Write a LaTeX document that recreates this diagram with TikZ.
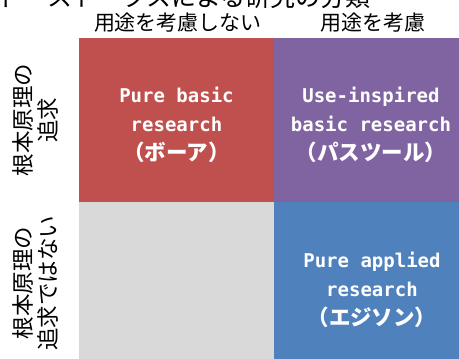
\documentclass[tikz,border=0pt]{standalone}
\usepackage{fontspec}
\newfontfamily\jp{Noto Sans CJK JP}
\newfontfamily\mono{DejaVu Sans Mono}
\definecolor{cred}{HTML}{C0504D}
\definecolor{cpurple}{HTML}{8064A2}
\definecolor{cblue}{HTML}{4F81BD}
\definecolor{cgray}{HTML}{D9D9D9}
\newcommand{\kanaline}[1]{{\jp\bfseries\fontsize{21.5}{29}\selectfont #1}}
\tikzset{
  cell/.style={draw=none, inner sep=0pt, outer sep=0pt, anchor=north west},
  celltext/.style={text=white, align=center, inner sep=0pt, font=\fontsize{19}{29}\selectfont},
  header/.style={inner sep=0pt, font=\jp\fontsize{21}{21}\selectfont},
  rowlabel/.style={inner sep=0pt, rotate=90, align=center, font=\jp\fontsize{22.5}{25}\selectfont}
}
\begin{document}
\begin{tikzpicture}[x=1pt,y=-1pt]
\useasboundingbox (0,0) rectangle (459,359);
\clip (0,0) rectangle (459,359);
% cells
\node[cell, fill=cred, minimum width=195pt, minimum height=164pt] (bohr) at (79,38) {};
\node[cell, fill=cpurple, minimum width=195pt, minimum height=164pt] (pasteur) at (274,38) {};
\node[cell, fill=cgray, minimum width=195pt, minimum height=170pt] (empty) at (79,202) {};
\node[cell, fill=cblue, minimum width=195pt, minimum height=170pt] (edison) at (274,202) {};
% cell texts
\node[celltext] (t1) at (176.5,125) {{\mono\bfseries Pure basic}\\{\mono\bfseries research}\\\kanaline{（ボーア）}};
\node[celltext] (t2) at (371,125) {{\mono\bfseries Use-inspired}\\{\mono\bfseries basic research}\\\kanaline{（パスツール）}};
\node[celltext] (t3) at (372,290) {{\mono\bfseries Pure applied}\\{\mono\bfseries research}\\\kanaline{（エジソン）}};
% headers
\node[header] (h1) at (178,23) {用途を考慮しない};
\node[header] (h2) at (373,23) {用途を考慮};
% row labels
\node[rowlabel] (r1) at (35.5,120) {根本原理の\\追求};
\node[rowlabel] (r2) at (35.5,283) {根本原理の\\追求ではない};
% title (clipped at top, as in the reference)
\node[anchor=base east, inner sep=0pt, font=\jp\fontsize{25}{25}\selectfont] (title) at (371,6.5) {ドナルド・ストークスによる研究の分類};
\end{tikzpicture}
\end{document}
